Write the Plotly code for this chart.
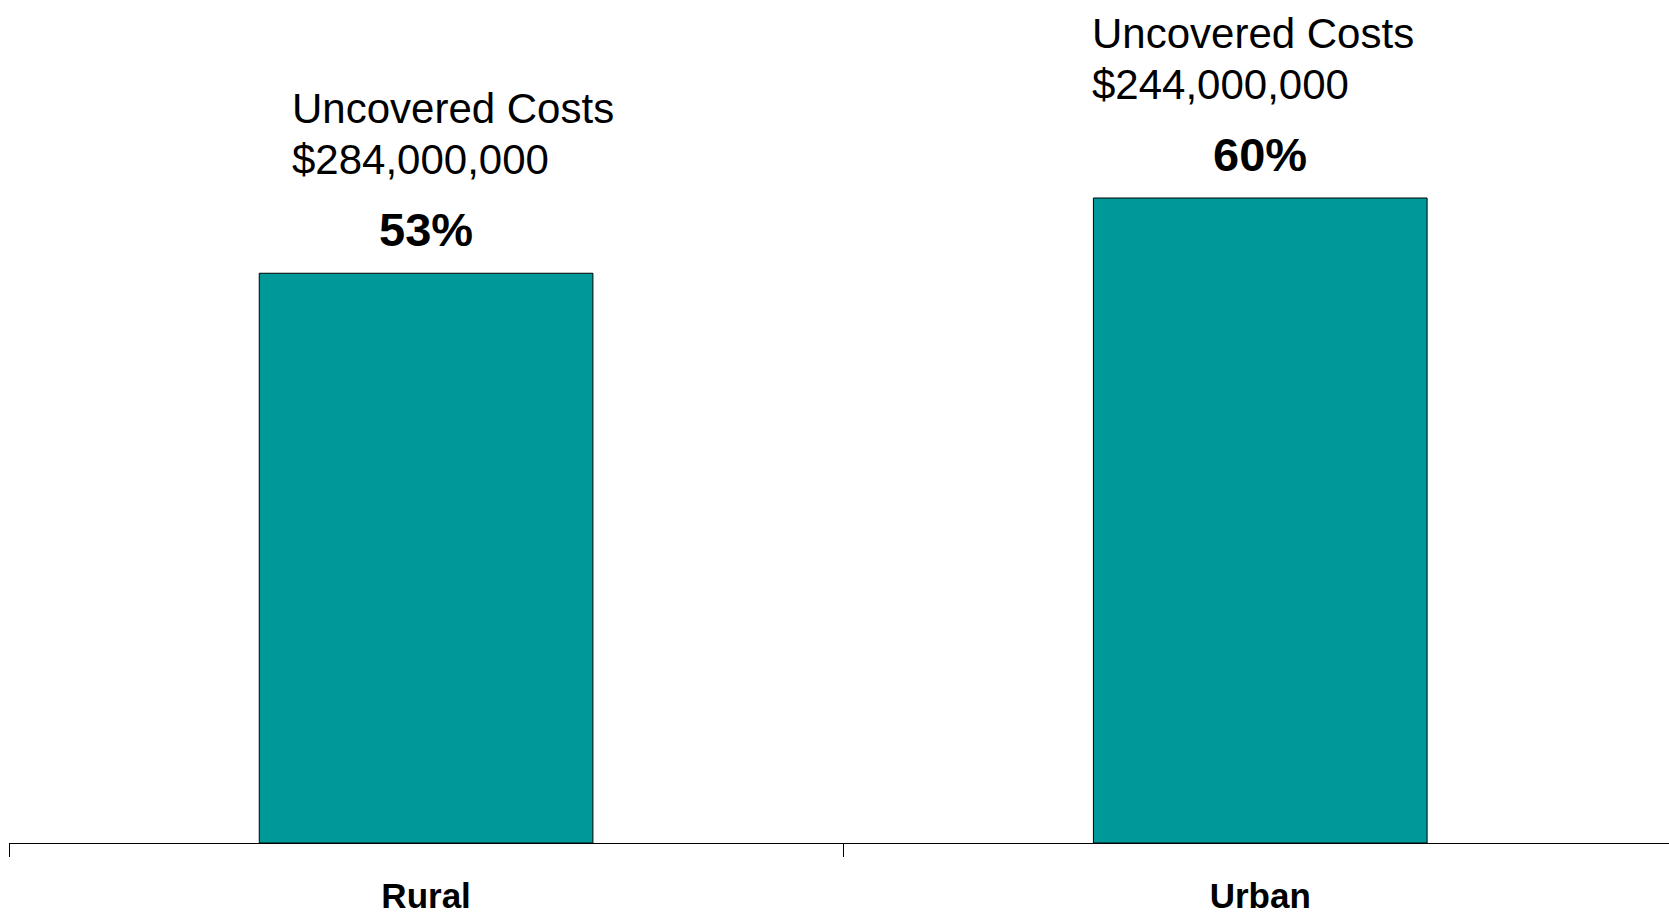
import plotly.graph_objects as go

categories = ["Rural", "Urban"]
percent_values = [53, 60]
cost_heading = ["Uncovered Costs", "Uncovered Costs"]
uncovered_costs = ["$284,000,000", "$244,000,000"]

# style / placement constants
BAR_COLOR = "#009999"
FONT = "Liberation Sans, Arial, sans-serif"
cost_label_xshift = [-136, -170]

fig = go.Figure()
fig.add_trace(go.Bar(
    x=categories,
    y=percent_values,
    marker=dict(color=BAR_COLOR, line=dict(color="black", width=1)),
    width=0.4,
    hoverinfo="skip",
))

for cat, val, head, cost, xs in zip(categories, percent_values, cost_heading,
                                    uncovered_costs, cost_label_xshift):
    fig.add_annotation(
        x=cat, y=val, xref="x", yref="y",
        text=f"<b>{val}%</b>",
        showarrow=False, xanchor="center", yanchor="bottom",
        yshift=15,
        font=dict(family=FONT, size=47, color="black"),
    )
    fig.add_annotation(
        x=cat, y=val, xref="x", yref="y",
        text=cost,
        showarrow=False, xanchor="left", yanchor="bottom", align="left",
        xshift=xs, yshift=88,
        font=dict(family=FONT, size=42, color="black"),
    )
    fig.add_annotation(
        x=cat, y=val, xref="x", yref="y",
        text=head,
        showarrow=False, xanchor="left", yanchor="bottom", align="left",
        xshift=xs, yshift=139,
        font=dict(family=FONT, size=42, color="black"),
    )

fig.update_layout(
    width=1669, height=915,
    margin=dict(l=9, r=0, t=0, b=72),
    paper_bgcolor="white", plot_bgcolor="white",
    showlegend=False,
    xaxis=dict(
        showline=True, linecolor="black", linewidth=1,
        ticks="outside", tickson="boundaries", ticklen=13, tickcolor="black", tickwidth=1,
        ticklabelstandoff=22,
        tickfont=dict(family=FONT, size=35, color="black", weight="bold"),
        showgrid=False, zeroline=False,
        range=[-0.5, 1.49],
    ),
    yaxis=dict(
        visible=False, range=[0, 78.42], showgrid=False, zeroline=False,
    ),
)

fig.write_html(
    "out.html",
    config={"displayModeBar": False},
    post_script="document.body.style.margin='0';document.body.style.overflow='hidden';",
)
